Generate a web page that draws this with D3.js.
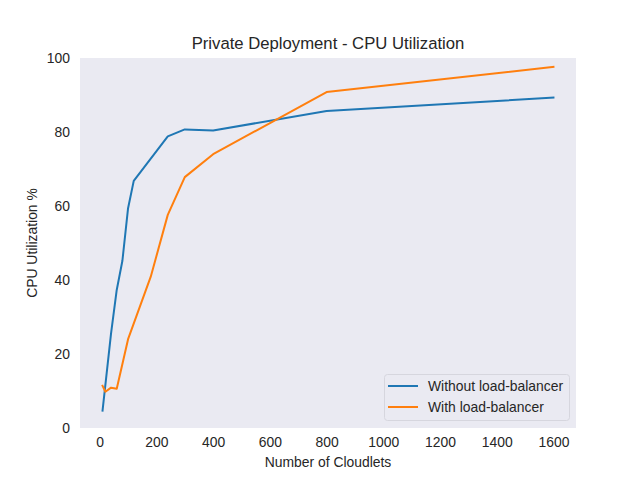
<!DOCTYPE html>
<html>
<head>
<meta charset="utf-8">
<script src="https://cdn.jsdelivr.net/npm/d3@7"></script>
<style>
  body { margin: 0; background: #fff; }
  svg { display: block; font-family: "Liberation Sans", Arial, sans-serif; }
</style>
</head>
<body>
<svg width="640" height="480"></svg>
<script>
const width = 640;
const height = 480;

// Data
const xNoLB = [10, 40, 60, 80, 100, 120, 240, 300, 400, 800, 1600];
const yNoLB = [4.7, 25.6, 37.3, 45.2, 59.4, 66.8, 78.8, 80.7, 80.4, 85.7, 89.3];

const xLB = [10, 20, 40, 60, 100, 180, 240, 300, 400, 800, 1600];
const yLB = [11.4, 9.8, 10.9, 10.6, 24.0, 40.9, 57.6, 67.8, 74.0, 90.8, 97.6];

const seriesNames = ["Without load-balancer", "With load-balancer"];
const seriesColors = ["#1f77b4", "#ff7f0e"];

const xTicks = [0, 200, 400, 600, 800, 1000, 1200, 1400, 1600];
const yTicks = [0, 20, 40, 60, 80, 100];

const margin = { left: 80, right: 64, top: 58, bottom: 52 };

const svg = d3.select("svg");

// matplotlib-like 5% x margins
const xMin = 10, xMax = 1600, pad = (xMax - xMin) * 0.05;
const x = d3.scaleLinear()
  .domain([xMin - pad, xMax + pad])
  .range([margin.left, width - margin.right]);

const y = d3.scaleLinear()
  .domain([0, 100])
  .range([height - margin.bottom, margin.top]);

// background
svg.append("rect")
  .attr("x", margin.left)
  .attr("y", margin.top)
  .attr("width", width - margin.left - margin.right)
  .attr("height", height - margin.top - margin.bottom)
  .attr("fill", "#eaeaf2");

// axes (no tick marks, no domain line)
const xAxis = svg.append("g")
  .attr("transform", `translate(0,${height - margin.bottom})`)
  .call(d3.axisBottom(x).tickValues(xTicks).tickFormat(d3.format("d")).tickSize(0).tickPadding(9));

const yAxis = svg.append("g")
  .attr("transform", `translate(${margin.left},0)`)
  .call(d3.axisLeft(y).tickValues(yTicks).tickFormat(d3.format("d")).tickSize(0).tickPadding(10));

[xAxis, yAxis].forEach(a => {
  a.select(".domain").remove();
  a.selectAll("text")
    .attr("font-size", 13.9)
    .attr("font-family", "Liberation Sans, Arial, sans-serif")
    .attr("fill", "#262626");
});

// lines
const line = d3.line()
  .x(d => x(d[0]))
  .y(d => y(d[1]));

const series = [
  d3.zip(xNoLB, yNoLB),
  d3.zip(xLB, yLB)
];

svg.append("g")
  .selectAll("path")
  .data(series)
  .join("path")
  .attr("d", line)
  .attr("fill", "none")
  .attr("stroke", (d, i) => seriesColors[i])
  .attr("stroke-width", 2)
  .attr("stroke-linejoin", "round")
  .attr("stroke-linecap", "square");

// titles
svg.append("text")
  .attr("x", (margin.left + width - margin.right) / 2)
  .attr("y", 49)
  .attr("text-anchor", "middle")
  .attr("font-size", 16.7)
  .attr("fill", "#262626")
  .text("Private Deployment - CPU Utilization");

svg.append("text")
  .attr("x", (margin.left + width - margin.right) / 2)
  .attr("y", 467)
  .attr("text-anchor", "middle")
  .attr("font-size", 13.9)
  .attr("fill", "#262626")
  .text("Number of Cloudlets");

svg.append("text")
  .attr("transform", `translate(37,${(margin.top + height - margin.bottom) / 2}) rotate(-90)`)
  .attr("text-anchor", "middle")
  .attr("font-size", 13.9)
  .attr("fill", "#262626")
  .text("CPU Utilization %");

// legend
const legend = svg.append("g").attr("transform", "translate(384,374)");
legend.append("rect")
  .attr("x", 0.5).attr("y", 0.5)
  .attr("width", 185).attr("height", 46)
  .attr("rx", 3)
  .attr("fill", "#eaeaf2")
  .attr("stroke", "#d6d6de");

const items = legend.selectAll("g.item")
  .data(seriesNames)
  .join("g")
  .attr("class", "item")
  .attr("transform", (d, i) => `translate(0,${12 + i * 21})`);

items.append("line")
  .attr("x1", 4).attr("x2", 34)
  .attr("stroke", (d, i) => seriesColors[i])
  .attr("stroke-width", 2);

items.append("text")
  .attr("x", 44)
  .attr("dy", "0.35em")
  .attr("font-size", 13.9)
  .attr("fill", "#262626")
  .text(d => d);
</script>
</body>
</html>
